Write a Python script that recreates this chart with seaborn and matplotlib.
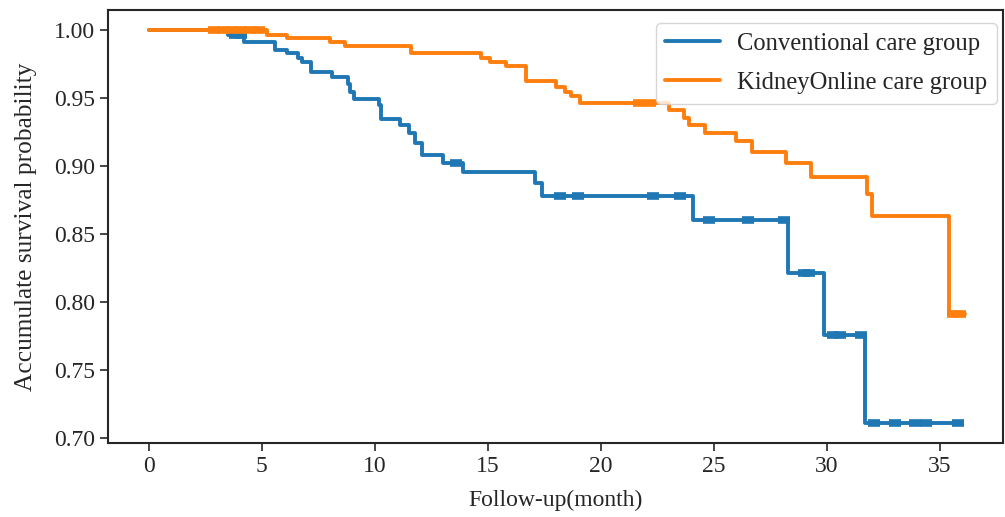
import numpy as np
import pandas as pd
import matplotlib
matplotlib.use('Agg')
import matplotlib.pyplot as plt
import seaborn as sns

# Kaplan-Meier steps (month, survival after the drop)
conv_t = [0, 3.5, 4.2, 5.6, 6.1, 6.6, 6.8, 7.2, 8.1, 8.8, 8.9, 9.1, 10.2, 10.3, 11.1, 11.5,
          11.8, 12.1, 13.0, 13.9, 17.1, 17.4, 24.1, 28.3, 29.9, 31.7, 35.9]
conv_s = [1.0, 0.996, 0.991, 0.985, 0.983, 0.979, 0.976, 0.969, 0.9655, 0.960, 0.954, 0.949, 0.945, 0.9345, 0.930, 0.924,
          0.917, 0.908, 0.902, 0.8955, 0.8875, 0.878, 0.860, 0.8215, 0.776, 0.711, 0.711]
conv_cens = [3.8, 4.1, 13.6, 18.2, 19.0, 22.3, 23.5, 24.8, 26.5, 28.1, 29.0, 29.2, 30.3, 30.6,
             31.5, 32.1, 33.0, 33.9, 34.4, 35.8]

kol_t = [0, 5.25, 6.1, 8.0, 8.7, 11.6, 14.7, 15.1, 15.8, 16.7, 18.0, 18.4, 18.7, 19.1, 23.0,
         23.7, 23.9, 24.6, 26.0, 26.7, 28.2, 29.3, 31.8, 32.0, 35.4, 36.1]
kol_s = [1.0, 0.9963, 0.994, 0.991, 0.988, 0.983, 0.979, 0.976, 0.973, 0.962, 0.958, 0.954, 0.951, 0.946, 0.941,
         0.935, 0.930, 0.924, 0.918, 0.910, 0.902, 0.892, 0.879, 0.863, 0.791, 0.791]
kol_cens = [2.9, 3.3, 3.7, 4.1, 4.5, 4.9, 21.7, 22.2, 35.6, 35.9]

labels = ['Conventional care group', 'KidneyOnline care group']
colors = ['#1f77b4', '#ff7f0e']


def step_value(t, times, surv):
    idx = np.searchsorted(times, t, side='right') - 1
    return np.asarray(surv)[idx]


rows = []
for lab, tt, ss in [(labels[0], conv_t, conv_s), (labels[1], kol_t, kol_s)]:
    rows.append(pd.DataFrame({'month': tt, 'surv': ss, 'group': lab}))
df = pd.concat(rows, ignore_index=True)

sns.set_style('ticks')
plt.rcParams['font.family'] = ['Liberation Serif', 'DejaVu Serif']
plt.rcParams['font.size'] = 17

fig = plt.figure(figsize=(10.05, 5.17), dpi=100)
ax = fig.add_axes([0.1075, 0.143, 0.8905, 0.838])

sns.lineplot(data=df, x='month', y='surv', hue='group', palette=colors,
             drawstyle='steps-post', linewidth=2.8, ax=ax, estimator=None, sort=False)

for tt, ss, cens, c in [(conv_t, conv_s, conv_cens, colors[0]), (kol_t, kol_s, kol_cens, colors[1])]:
    yy = [step_value(t, tt, ss) for t in cens]
    ax.plot(cens, yy, linestyle='none', marker='_', markersize=9, mew=5.5, color=c)

ax.set_xlim(-1.8, 37.8)
ax.set_ylim(0.6965, 1.0145)
ax.set_xticks(range(0, 36, 5))
ax.set_yticks([0.70, 0.75, 0.80, 0.85, 0.90, 0.95, 1.00])
ax.set_yticklabels(['%.2f' % v for v in [0.70, 0.75, 0.80, 0.85, 0.90, 0.95, 1.00]])
ax.tick_params(labelsize=17, length=6, width=1.2)
for s in ax.spines.values():
    s.set_linewidth(1.5)
    s.set_visible(True)
ax.set_xlabel('Follow-up(month)', fontsize=17, labelpad=9)
ax.set_ylabel('Accumulate survival probability', fontsize=18.3, labelpad=12)
ax.legend(loc='upper right', bbox_to_anchor=(0.993, 0.970), borderaxespad=0,
          fontsize=17.7, frameon=True, handlelength=2.2, handletextpad=0.7,
          labelspacing=0.68)

fig.savefig('out.png', dpi=100)
